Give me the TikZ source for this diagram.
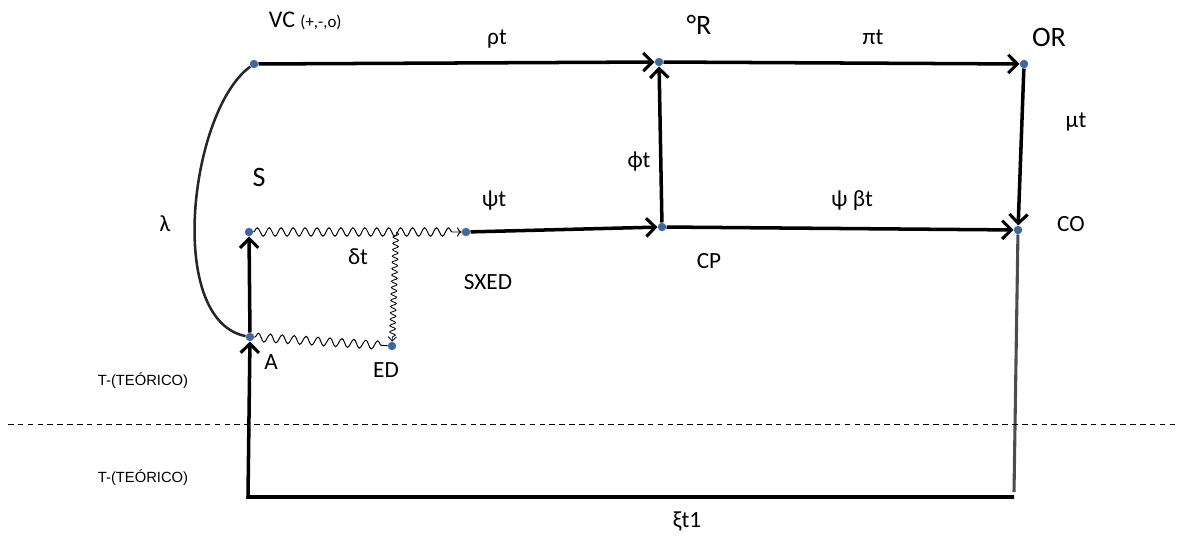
\documentclass[tikz,border=0pt]{standalone}
\usepackage{fontspec}
\setmainfont{Carlito}
\newfontfamily\arialfont{Liberation Sans}
\usetikzlibrary{arrows.meta,decorations.pathmorphing}
\definecolor{dotblue}{RGB}{64,104,160}

\begin{document}
\begin{tikzpicture}[
        x=0.025cm, y=-0.025cm,
        dot/.style={circle, fill=dotblue, inner sep=0pt, minimum size=6pt},
        conn/.style={line width=2.5pt, -{Straight Barb[length=6.5pt, width=13pt, line width=2.2pt]}},
        wavy/.style={decorate, line width=0.7pt,
                     decoration={snake, amplitude=3pt, segment length=8.5pt, post length=3pt}},
        wavyv/.style={decorate, line width=0.6pt,
                     decoration={snake, amplitude=2pt, segment length=4.5pt, post length=3pt}},
        lbl/.style={anchor=base, font=\fontsize{16.5}{18}\selectfont},
        big/.style={anchor=base, font=\fontsize{20}{22}\selectfont},
        small/.style={anchor=base, font=\arialfont\fontsize{10.5}{12}\selectfont}
    ]
        \useasboundingbox (0,0) rectangle (1177,538);

        % points
        \node[dot] (vc)   at (254,64)  {};
        \node[dot] (r)    at (659,62)  {};
        \node[dot] (or)   at (1024,64) {};
        \node[dot] (s)    at (249,232) {};
        \node[dot] (sxed) at (466,232) {};
        \node[dot] (cp)   at (662,227) {};
        \node[dot] (co)   at (1018,230) {};
        \node[dot] (a)    at (250,337) {};
        \node[dot] (ed)   at (392,346) {};
        \coordinate (jn) at (396,232);
        \coordinate (bl) at (248,497);
        \coordinate (br) at (1014,497);
        \coordinate (gb) at (1014,492);

        % labels
        \node[anchor=base west, font=\fontsize{17}{19}\selectfont] (vcl) at (264,28)
            {VC {\fontsize{12}{14}\selectfont (+,-,o)}};
        \node[big] (rl)   at (699,35)  {°R};
        \node[big] (orl)  at (1049,47) {OR};
        \node[big] (sl)   at (259,187) {S};
        \node[lbl] (rho)  at (497,45)  {ρt};
        \node[lbl] (pi)   at (873,45)  {πt};
        \node[lbl] (mu)   at (1076,128) {μt};
        \node[lbl] (phi)  at (639,168) {ϕt};
        \node[lbl] (lam)  at (165,231) {λ};
        \node[lbl] (psi)  at (494,206) {ψt};
        \node[lbl] (psib) at (852,206) {ψ βt};
        \node[lbl] (col)  at (1071,231) {CO};
        \node[lbl] (del)  at (358,264) {δt};
        \node[lbl] (sxl)  at (488,289) {SXED};
        \node[lbl] (cpl)  at (709,268) {CP};
        \node[lbl] (al)   at (271,369) {A};
        \node[lbl] (edl)  at (386,377) {ED};
        \node[lbl] (xi)   at (687,527) {ξt1};
        \node[small] (t1) at (143,385) {T-(TEÓRICO)};
        \node[small] (t2) at (143,482) {T-(TEÓRICO)};

        % connectors
        \draw[conn] (vc) -- (r);
        \draw[conn] (r) -- (or);
        \draw[conn] (or) -- (co);
        \draw[conn] (cp) -- (r);
        \draw[conn] (sxed) -- (cp);
        \draw[conn] (cp) -- (co);
        \draw[conn] (a) -- (s);
        \draw[conn] (br) -- (bl) -- (a);
        \draw[line width=2.2pt, black!70] (co) -- (gb);
        \draw[line width=1.8pt, black!85] (vc) .. controls (190,110) and (165,320) .. (a);

        \draw[wavy, ->] (s) -- (sxed);
        \draw[wavyv, ->, >={Straight Barb[length=3pt, width=6pt]}] (jn) -- (ed);
        \draw[wavy] (a) -- (ed);

        \draw[dashed, line width=0.6pt, dash pattern=on 4pt off 3pt] (8,424) -- (1177,424);
    \end{tikzpicture}
\end{document}
